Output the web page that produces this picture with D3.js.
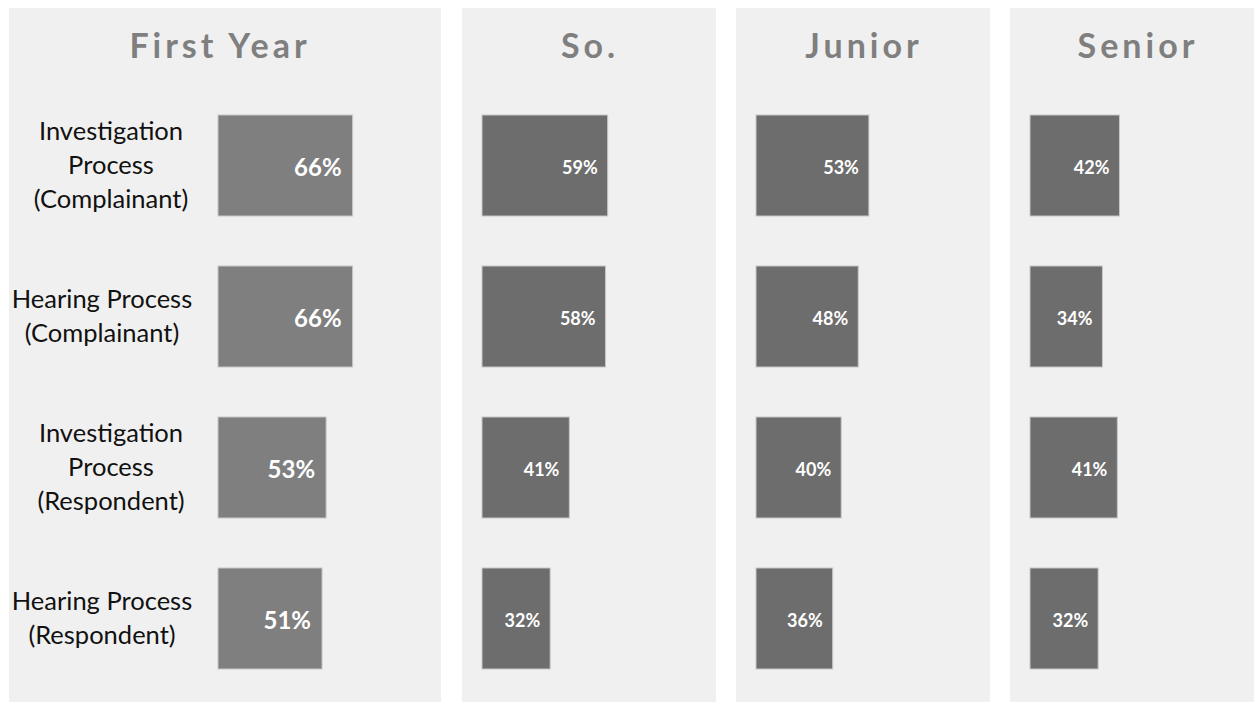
<!DOCTYPE html>
<html>
<head>
<meta charset="UTF-8">
<title>Process ratings by year</title>
<style>
  body { margin: 0; background: #fff; }
  svg { display: block; }
  .title { font-family: Lato, "Open Sans", sans-serif; font-weight: 700; fill: #7f7f7f; }
  .cat { font-family: Lato, "Open Sans", sans-serif; fill: #111; }
  .val { font-family: Lato, "Open Sans", sans-serif; font-weight: 700; fill: #fff; }
</style>
</head>
<body>
<svg></svg>
<script src="https://d3js.org/d3.v7.min.js"></script>
<script>

// data
const years = ["First Year", "So.", "Junior", "Senior"];
const categories = ["inv-c", "hear-c", "inv-r", "hear-r"];
const categoryLines = [
  ["Investigation", "Process", "(Complainant)"],
  ["Hearing Process", "(Complainant)"],
  ["Investigation", "Process", "(Respondent)"],
  ["Hearing Process", "(Respondent)"]
];
const firstYear = [66, 66, 53, 51];
const sophomore = [59, 58, 41, 32];
const junior = [53, 48, 40, 36];
const senior = [42, 34, 41, 32];
const series = [firstYear, sophomore, junior, senior];

let width = 1254, height = 702;

let svg = d3.select("svg")
  .attr("width", width)
  .attr("height", height);

// panel layout (first one holds the category labels)
const panels = [
  {x: 9, w: 432, barX: 218, span: 204, titleX: 218, color: "#7f7f7f", fs: 24},
  {x: 462, w: 254, barX: 482, span: 213, titleX: 588, color: "#6d6d6d", fs: 18},
  {x: 736, w: 254, barX: 756, span: 213, titleX: 862, color: "#6d6d6d", fs: 18},
  {x: 1010, w: 260, barX: 1030, span: 213, titleX: 1136, color: "#6d6d6d", fs: 18}
];

let y = d3.scaleBand()
  .domain(categories)
  .range([115, 669])
  .paddingInner(0.331)
  .paddingOuter(0);

panels.forEach((p, i) => {
  let g = svg.append("g");

  g.append("rect")
    .attr("x", p.x).attr("y", 8)
    .attr("width", p.w).attr("height", 694)
    .attr("fill", "#f0f0f0");

  g.append("text")
    .attr("class", "title")
    .attr("x", p.titleX + 2).attr("y", 58)
    .attr("text-anchor", "middle")
    .attr("font-size", 34)
    .attr("letter-spacing", 4)
    .text(years[i]);

  let x = d3.scaleLinear().domain([0, 100]).range([p.barX, p.barX + p.span]);

  let rows = g.selectAll(".row")
    .data(series[i].map((v, j) => ({cat: categories[j], v: v})))
    .enter().append("g");

  rows.append("rect")
    .attr("x", x(0))
    .attr("y", d => y(d.cat))
    .attr("width", d => x(d.v) - x(0))
    .attr("height", y.bandwidth())
    .attr("fill", p.color)
    .attr("stroke", "#c8c8c8")
    .attr("stroke-width", 1);

  rows.append("text")
    .attr("class", "val")
    .attr("x", d => x(d.v) - (i == 0 ? 11 : 10))
    .attr("y", d => y(d.cat) + y.bandwidth() / 2 + 2)
    .attr("dy", "0.35em")
    .attr("text-anchor", "end")
    .attr("font-size", p.fs)
    .text(d => d.v + "%");
});

// category labels in first panel (two-line labels sit a bit further left)
categories.forEach((c, j) => {
  let lines = categoryLines[j];
  let cy = y(c) + y.bandwidth() / 2;
  let cx = lines.length == 3 ? 111 : 102;
  let t = svg.append("text")
    .attr("class", "cat")
    .attr("text-anchor", "middle")
    .attr("font-size", 25.5);
  lines.forEach((l, k) => {
    t.append("tspan")
      .attr("x", cx)
      .attr("y", cy + (k - (lines.length - 1) / 2) * 34)
      .attr("dy", "0.35em")
      .text(l);
  });
});

</script>
</body>
</html>
